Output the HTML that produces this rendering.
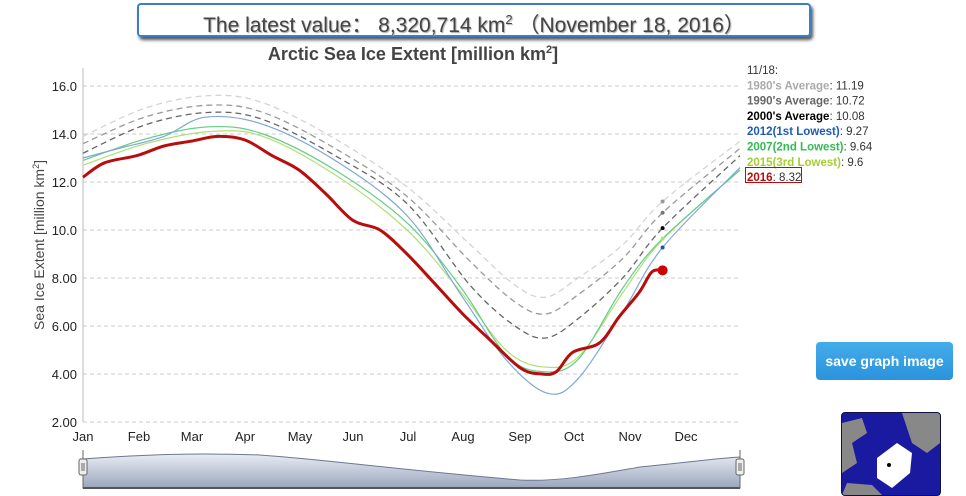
<!DOCTYPE html>
<html><head><meta charset="utf-8"><style>
body{margin:0;width:966px;height:492px;background:#fff;overflow:hidden;font-family:"Liberation Sans",sans-serif;position:relative}
#hdr{position:absolute;left:137px;top:3px;width:670px;height:30px;border:2px solid #3a7fc4;border-radius:4px;box-shadow:2px 3px 3px #555;text-align:center;font-size:21px;line-height:30px;color:#444;text-shadow:1px 1px 1px #aaa}
#btn{position:absolute;left:816px;top:342px;width:137px;height:38px;background:linear-gradient(#45acea,#2a93dc);border-radius:4px;color:#fff;font-size:14px;font-weight:bold;text-align:center;line-height:38px}
#map{position:absolute;left:841px;top:412px;width:98px;height:82px;background:#1a1aa0;border-radius:4px;border:1px solid #114;overflow:hidden}
</style></head><body>
<div id="hdr">The latest value：  8,320,714 km<sup style="font-size:13px">2</sup> （November 18, 2016）</div>
<svg id="s" width="966" height="492" style="position:absolute;left:0;top:0"></svg>
<div id="btn">save graph image</div>
<div id="map"><svg width="98" height="82"><path d="M0 10 L20 5 L25 20 L10 30 L15 50 L0 60Z" fill="#888"/><path d="M60 0 L98 0 L98 30 L85 40 L70 30 L65 15Z" fill="#888"/><path d="M35 45 L55 30 L70 40 L68 60 L50 75 L35 65Z" fill="#fff"/><path d="M5 70 L30 72 L40 82 L0 82Z" fill="#888"/><circle cx="47" cy="52" r="2" fill="#000"/></svg></div>
<script>
const X=d=>83+d*1.8, Y=v=>86+(16-v)*24;
let h='';
const s=document.getElementById('s');
for(let v=2;v<=16;v+=2){h+=`<line x1="83" x2="740" y1="${Y(v)}" y2="${Y(v)}" stroke="#ccc" stroke-dasharray="4,3"/>`;
h+=`<text x="77" y="${Y(v)+5}" font-size="13" text-anchor="end" fill="#222">${v<10?v.toFixed(2):v.toFixed(1)}</text>`;}
h+=`<line x1="83" x2="83" y1="68" y2="422" stroke="#bbb"/>`;
const mon=['Jan','Feb','Mar','Apr','May','Jun','Jul','Aug','Sep','Oct','Nov','Dec'],mx=[83,139,192,245,300,353,408,463,520,574,630,686];
mon.forEach((m,i)=>h+=`<text x="${mx[i]}" y="441" font-size="13" text-anchor="middle" fill="#222">${m}</text>`);
h+=`<text x="413" y="60" font-size="18" font-weight="bold" text-anchor="middle" fill="#444">Arctic Sea Ice Extent [million km<tspan font-size="11" dy="-7">2</tspan><tspan dy="7">]</tspan></text>`;
h+=`<text transform="translate(44,245) rotate(-90)" font-size="14" text-anchor="middle" fill="#444">Sea Ice Extent [million km<tspan font-size="9" dy="-5">2</tspan><tspan dy="5">]</tspan></text>`;
function path(p){let pts=p.map(q=>[X(q[0]),Y(q[1])]);let d=`M${pts[0]}`;for(let i=0;i<pts.length-1;i++){let p0=pts[Math.max(0,i-1)],p1=pts[i],p2=pts[i+1],p3=pts[Math.min(pts.length-1,i+2)];
d+=` C${p1[0]+(p2[0]-p0[0])/6},${p1[1]+(p2[1]-p0[1])/6} ${p2[0]-(p3[0]-p1[0])/6},${p2[1]-(p3[1]-p1[1])/6} ${p2[0]},${p2[1]}`;}return d;}
function clim(a,pk,mn,nov,e){return [[0,a],[35,a+(pk-a)*0.7],[70,pk],[100,pk-0.3],[140,pk-1.8],[180,pk-3.8],[215,mn+2.2],[240,mn+0.5],[257,mn],[275,mn+0.8],[300,mn+(nov-mn)*0.55],[322,nov],[365,e]];}
const ser=[
[clim(13.9,15.6,7.2,11.19,13.7),'#d4d4d4',1.3,'6,4'],
[clim(13.6,15.2,6.5,10.72,13.4),'#999',1.3,'6,4'],
[clim(13.2,14.9,5.5,10.08,13.1),'#666',1.3,'6,4'],
[[[0,12.7],[35,13.6],[70,14.1],[100,13.9],[140,12.3],[180,10.0],[210,7.4],[235,5.0],[255,4.3],[275,4.7],[300,7.4],[322,9.6],[365,12.5]],'#aee07a',1.2,''],
[[[0,12.9],[35,13.8],[70,14.3],[100,14.0],[140,12.5],[180,10.3],[210,7.6],[235,4.8],[255,4.1],[275,4.6],[300,7.6],[322,9.64],[365,12.5]],'#66cc88',1.2,''],
[[[0,13.0],[20,13.4],[45,13.9],[68,14.7],[100,14.4],[140,12.9],[180,10.6],[210,7.3],[235,4.6],[258,3.2],[275,3.8],[300,6.6],[322,9.27],[365,12.6]],'#7fa7d8',1.2,''],
[[[0,12.2],[12,12.8],[30,13.1],[45,13.5],[60,13.7],[75,13.9],[90,13.75],[105,13.1],[120,12.5],[135,11.5],[150,10.4],[165,10.0],[180,9.0],[195,7.8],[211,6.5],[225,5.5],[243,4.25],[255,4.0],[263,4.1],[272,4.9],[287,5.3],[298,6.4],[309,7.4],[316,8.25],[322,8.32]],'#b80d0d',3,'']];
ser.forEach(q=>h+=`<path d="${path(q[0])}" fill="none" stroke="${q[1]}" stroke-width="${q[2]}" stroke-dasharray="${q[3]}"/>`);
[[11.19,'#999'],[10.72,'#777'],[10.08,'#000'],[9.64,'#aee07a'],[9.27,'#2255aa']].forEach(q=>h+=`<circle cx="${X(322)}" cy="${Y(q[0])}" r="2" fill="${q[1]}"/>`);
h+=`<circle cx="${X(322)}" cy="${Y(8.32)}" r="5" fill="#c00"/>`;
const lg=[['11/18:','#333',''],["1980's Average",'#aaa','11.19'],["1990's Average",'#666','10.72'],["2000's Average",'#000','10.08'],['2012(1st Lowest)','#1f5bb5','9.27'],['2007(2nd Lowest)','#33bb55','9.64'],['2015(3rd Lowest)','#a8cc33','9.6'],['2016','#b80d0d','8.32']];
lg.forEach((l,i)=>{let y=74+i*15.3;if(i==0)h+=`<text x="747" y="${y}" font-size="11.5" fill="#333">11/18:</text>`;else h+=`<text x="747" y="${y}" font-size="11.5" fill="#333"><tspan font-weight="bold" fill="${l[1]}">${l[0]}</tspan>: ${l[2]}</text>`;});
h+=`<rect x="745.5" y="167.5" width="56" height="15" fill="none" stroke="#b80d0d"/>`;
h+=`<defs><linearGradient id="g" x1="0" y1="0" x2="0" y2="1"><stop offset="0" stop-color="#e8ecf4"/><stop offset="1" stop-color="#9aa6bc"/></linearGradient></defs>`;
h+=`<path d="M83 459 C150 454 200 453 260 455 C330 460 400 470 520 480 C560 482 600 474 640 467 C690 462 720 458 740 457 L740 488 L83 488Z" fill="url(#g)" stroke="#6b7890"/>`;
h+=`<line x1="83" x2="740" y1="488" y2="488" stroke="#555" stroke-width="2"/>`;
[83,740].forEach(x=>h+=`<line x1="${x}" x2="${x}" y1="450" y2="488" stroke="#666"/><rect x="${x-4}" y="459" width="8" height="16" rx="2" fill="#eee" stroke="#666"/><line x1="${x-1}" x2="${x-1}" y1="463" y2="471" stroke="#666"/><line x1="${x+1}" x2="${x+1}" y1="463" y2="471" stroke="#666"/>`);
s.innerHTML=h;
</script>
</body></html>
